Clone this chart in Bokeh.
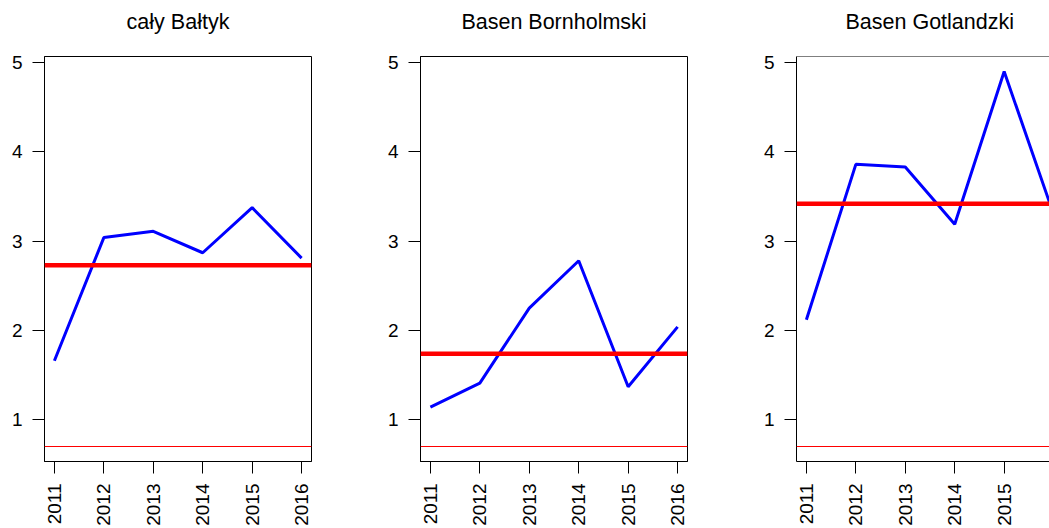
import math
from bokeh.plotting import figure
from bokeh.layouts import row
from bokeh.models import Span, FixedTicker, Range1d, Title
from bokeh.embed import file_html
from bokeh.resources import INLINE

# ---- data ----
years = [2011, 2012, 2013, 2014, 2015, 2016]
titles = ["cały Bałtyk", "Basen Bornholmski", "Basen Gotlandzki"]
caly_baltyk = [1.66, 3.04, 3.11, 2.87, 3.375, 2.81]
basen_bornholmski = [1.14, 1.41, 2.25, 2.78, 1.37, 2.04]
basen_gotlandzki = [2.12, 3.86, 3.83, 3.19, 4.90, 3.30]
reference_levels = [2.73, 1.74, 3.42]
threshold = 0.7
y_ticks = [1, 2, 3, 4, 5]

series = [caly_baltyk, basen_bornholmski, basen_gotlandzki]

FONT = "Liberation Sans"

all_vals = caly_baltyk + basen_bornholmski + basen_gotlandzki + [threshold]
y_lo0, y_hi0 = min(all_vals), max(all_vals)
y_pad = 0.04 * (y_hi0 - y_lo0)
Y_START, Y_END = y_lo0 - y_pad, y_hi0 + y_pad
x_pad = 0.04 * (years[-1] - years[0])
X_START, X_END = years[0] - x_pad, years[-1] + x_pad

TOTAL_W = 1049
FIG_W = 376
FIG_H = 528
LEFT = 44
RIGHT = 65
TOP = 56
BOTTOM = 65
FRAME_W = FIG_W - LEFT - RIGHT
px_per_year = FRAME_W / (X_END - X_START)


def make_panel(i):
    last = i == 2
    if last:
        width = TOTAL_W - 2 * FIG_W
        right = 0
        frame_w = width - LEFT - right
        x_end = X_START + frame_w / px_per_year
    else:
        width = FIG_W
        right = RIGHT
        x_end = X_END

    p = figure(width=width, height=FIG_H, output_backend="svg", toolbar_location=None,
               title=None,
               x_range=Range1d(X_START, x_end), y_range=Range1d(Y_START, Y_END),
               min_border_left=LEFT, min_border_right=right,
               min_border_top=TOP, min_border_bottom=BOTTOM,
               background_fill_color="white", border_fill_color="white")
    p.grid.visible = False
    if last:
        p.outline_line_color = None
        p.add_layout(Span(location=Y_END, dimension="width", line_color="black", line_width=1))
    else:
        p.outline_line_color = "black"
        p.outline_line_width = 1

    # title (a blank spacer title sits between the frame and the real title)
    spacer = Title(text=" ", text_font_size="1px", standoff=15)
    p.add_layout(spacer, "above")
    t = Title(text=titles[i], text_font=FONT, text_font_size="21.5px",
              text_font_style="normal", text_color="black", standoff=10)
    if last:
        t.align = "left"
        t.offset = 49
    else:
        t.align = "center"
    p.add_layout(t, "above")

    # axes
    for ax in (p.xaxis[0], p.yaxis[0]):
        ax.axis_line_color = "black"
        ax.major_tick_line_color = "black"
        ax.major_tick_out = 12
        ax.major_tick_in = 0
        ax.minor_tick_line_color = None
        ax.major_label_text_font = FONT
        ax.major_label_text_font_size = "19px"
        ax.major_label_text_color = "black"
    p.xaxis[0].ticker = FixedTicker(ticks=years)
    p.xaxis[0].major_label_orientation = math.pi / 2
    p.xaxis[0].major_label_standoff = 10
    p.yaxis[0].ticker = FixedTicker(ticks=y_ticks)
    p.yaxis[0].major_label_standoff = 10

    # lines
    p.add_layout(Span(location=threshold, dimension="width", line_color="red", line_width=1))
    p.add_layout(Span(location=reference_levels[i], dimension="width", line_color="red", line_width=4.5))
    p.line(years, series[i], line_color="blue", line_width=3)
    return p


panels = [make_panel(i) for i in range(3)]
layout = row(*panels, spacing=0)

with open("out.html", "w") as f:
    f.write(file_html(layout, INLINE))
